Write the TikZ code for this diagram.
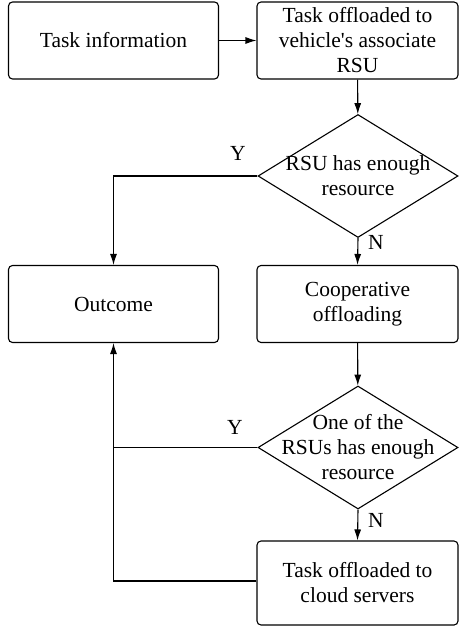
\documentclass[tikz,border=0pt]{standalone}
\usepackage{fontspec}
\setmainfont{Liberation Serif}
\usetikzlibrary{shapes.geometric,arrows.meta}
\begin{document}
\begin{tikzpicture}[x=1pt,y=-1pt,
  every node/.style={font=\fontsize{21.5}{25}\selectfont},
  box/.style={draw,line width=1.1pt,rounded corners=4pt,minimum width=210pt,minimum height=77pt,align=center,inner sep=0pt},
  rbox/.style={draw,line width=1.1pt,rounded corners=4pt,minimum width=201pt,minimum height=77pt,align=center,inner sep=0pt},
  dia/.style={draw,line width=1.1pt,shape=diamond,minimum width=200pt,minimum height=123pt,inner sep=0pt},
  dtext/.style={align=center,inner sep=0pt},
  conn/.style={line width=1.1pt,-{Latex[length=11pt,width=7pt]}},
  plain/.style={line width=1.1pt},
  lab/.style={inner sep=0pt}]
\useasboundingbox (0,0) rectangle (458,631);
\node[box] (info) at (113.5,40.5) {Task information};
\node[rbox] (assoc) at (357.5,40.5) {Task offloaded to\\vehicle\textquotesingle s associate\\RSU};
\node[dia] (d1) at (358,176) {};
\node[dtext] (d1t) at (d1.center) {RSU has enough\\resource};
\node[box] (out) at (113.5,304) {Outcome};
\node[rbox] (coop) at (357.5,304) {Cooperative\\offloading};
\node[dia] (d2) at (358,447.5) {};
\node[dtext] (d2t) at (d2.center) {One of the\\RSUs has enough\\resource};
\node[rbox,minimum height=84pt] (cloud) at (357.5,583) {Task offloaded to\\cloud servers};
\coordinate (c3) at (113.5,581);
\draw[conn] (info) -- (assoc);
\draw[conn] (assoc) -- (d1);
\draw[conn] (d1.west) -| (out.north);
\draw[conn] (d1.south) -- (coop.north);
\draw[conn] (coop) -- (d2);
\draw[plain] (d2.west) -- (out.south |- d2.west);
\draw[conn] (d2.south) -- (cloud.north);
\draw[conn] (cloud.west |- c3) -- (c3) -- (out.south);
\node[lab] (y1) at (238,153) {Y};
\node[lab] (y2) at (235,427) {Y};
\node[lab] (n1) at (376,242) {N};
\node[lab] (n2) at (376,520) {N};
\end{tikzpicture}
\end{document}
